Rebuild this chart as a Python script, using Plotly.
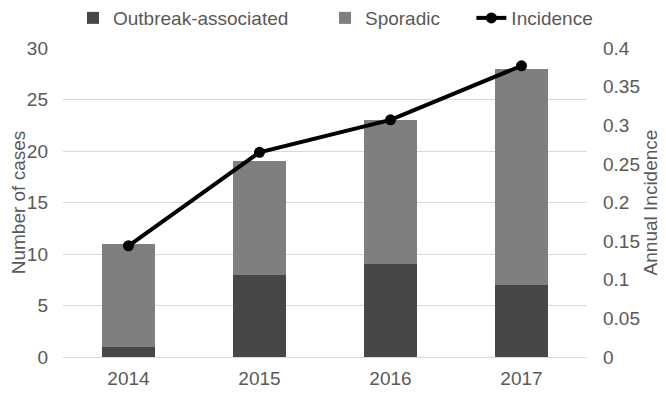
import plotly.graph_objects as go

years = ["2014", "2015", "2016", "2017"]
outbreak = [1, 8, 9, 7]
sporadic = [10, 11, 14, 21]
incidence = [0.144, 0.265, 0.307, 0.377]

font = "Liberation Sans, Arial, sans-serif"
tc = "#595959"
fs = 19
pad = "\u00a0" * 6

fig = go.Figure()
fig.add_trace(go.Bar(x=years, y=outbreak, name="Outbreak-associated" + pad,
                     marker_color="#474747", marker_line_width=0))
fig.add_trace(go.Bar(x=years, y=sporadic, name="Sporadic" + "\u00a0" * 5,
                     marker_color="#7f7f7f", marker_line_width=0))
fig.add_trace(go.Scatter(x=years, y=incidence, name="Incidence", yaxis="y2",
                         mode="lines+markers",
                         line=dict(color="#000000", width=4),
                         marker=dict(color="#000000", size=11)))

# page body has an 8px default margin; size the figure so it fills the 666x393 window
fig.update_layout(
    width=658, height=385,
    barmode="stack", bargap=0.6,
    paper_bgcolor="white", plot_bgcolor="white",
    margin=dict(l=55, r=79, t=40, b=36, autoexpand=False),
    font=dict(family=font, size=fs, color=tc),
    showlegend=True,
    legend=dict(orientation="h", x=0.52, xanchor="center", y=1.097, yanchor="middle",
                font=dict(size=fs, color=tc), traceorder="normal",
                itemwidth=30, bgcolor="rgba(0,0,0,0)"),
    xaxis=dict(showgrid=False, showline=True, linecolor="#d9d9d9", linewidth=1,
               ticks="", ticklabelstandoff=4, tickfont=dict(size=fs, color=tc)),
    yaxis=dict(range=[0, 30], dtick=5, showgrid=True, gridcolor="#d9d9d9",
               gridwidth=1, zeroline=False, ticks="", ticklabelstandoff=14,
               title=dict(text="Number of cases", font=dict(size=fs, color=tc), standoff=4),
               tickfont=dict(size=fs, color=tc)),
    yaxis2=dict(range=[0, 0.4], dtick=0.05, overlaying="y", side="right",
                showgrid=False, zeroline=False, ticks="", ticklabelstandoff=15,
                title=dict(text="Annual Incidence", font=dict(size=fs, color=tc), standoff=4),
                tickfont=dict(size=fs, color=tc)),
)

fig.write_html("out.html")
